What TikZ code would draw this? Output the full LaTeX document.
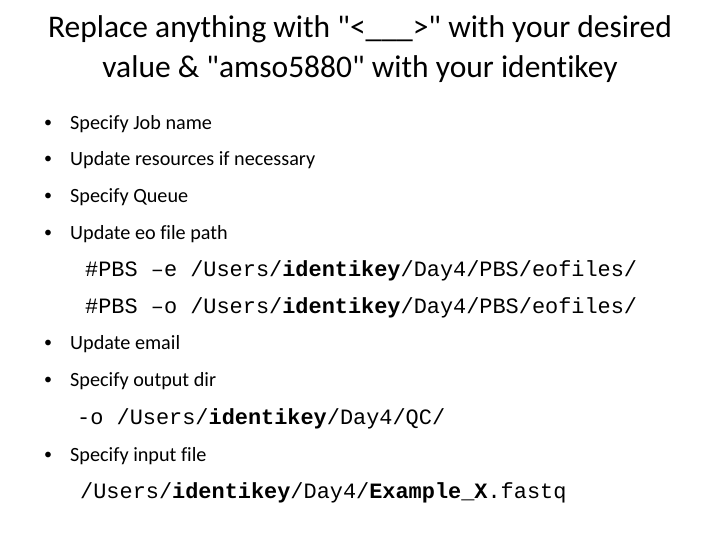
\documentclass[tikz,border=0pt]{standalone}
\usepackage{fontspec}
\setmainfont[Ligatures=NoCommon]{Carlito}
\setmonofont{Liberation Mono}
\begin{document}
\begin{tikzpicture}[x=1pt,y=-1pt,
  title/.style={font=\fontsize{31.5}{36}\selectfont, anchor=center, align=center},
  bul/.style={font=\fontsize{20.2}{24}\selectfont, anchor=west, inner sep=0},
  dot/.style={font=\fontsize{16}{20}\selectfont, anchor=center, inner sep=0},
  code/.style={font=\fontsize{21.9}{26}\ttfamily, anchor=west, inner sep=0}]
\useasboundingbox (0,0) rectangle (720,540);
\node[title] (t1) at (360,29) {Replace anything with \textquotedbl<\_\_\_>\textquotedbl{} with your desired};
\node[title] (t2) at (360,69) {value \& \textquotedbl amso5880\textquotedbl{} with your identikey};
\foreach \n/\y/\t in {b1/124/Specify Job name, b2/160/Update resources if necessary, b3/197/Specify Queue, b4/234/Update eo file path, b5/344/Update email, b6/381/Specify output dir, b7/456/Specify input file}{
  \node[dot] (d\n) at (48,\y) {•};
  \node[bul] (\n) at (70,\y) {\t};
}
\node[code] (c1) at (85,271) {\#PBS –e /Users/\textbf{identikey}/Day4/PBS/eofiles/};
\node[code] (c2) at (85,308) {\#PBS –o /Users/\textbf{identikey}/Day4/PBS/eofiles/};
\node[code] (c3) at (77,419) {-o /Users/\textbf{identikey}/Day4/QC/};
\node[code] (c4) at (80,493) {/Users/\textbf{identikey}/Day4/\textbf{Example\_X}.fastq};
\end{tikzpicture}
\end{document}
